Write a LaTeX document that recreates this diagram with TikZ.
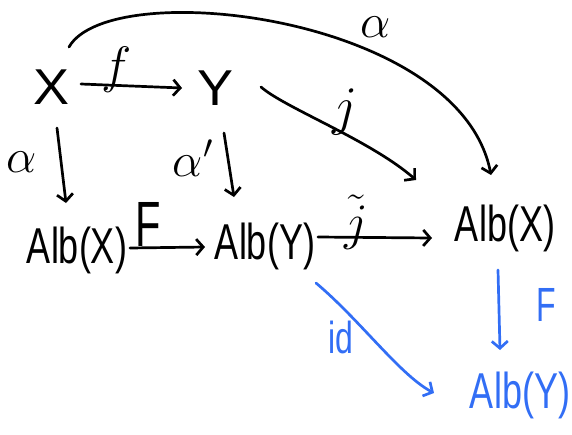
\RequirePackage{fix-cm}
\documentclass[tikz,border=0pt]{standalone}
\usepackage{fontspec}
\setsansfont{Liberation Sans}
\usepackage{graphicx}
\usetikzlibrary{arrows.meta,calc}
\definecolor{hblue}{RGB}{50,110,245}
\newcommand\hwtext[1]{\scalebox{1}[1.4]{\sffamily #1}}
\newcommand\hwbig[1]{\scalebox{1.5}[1.4]{\sffamily #1}}
\newcommand\mlab[2]{\scalebox{#1}{$#2$}}
\begin{document}
\begin{tikzpicture}[x=1pt,y=-1pt, line width=2.7pt, line cap=round, line join=round,
  obj/.style={inner sep=0pt, font=\fontsize{36}{40}\selectfont},
  lab/.style={inner sep=0pt, font=\fontsize{32}{36}\selectfont},
  arr/.style={-{Straight Barb[length=7pt,width=16pt]}}]
\useasboundingbox (0,0) rectangle (572,434);
% objects
\node[obj] (X) at (52,87) {\hwbig{X}};
\node[obj] (Y) at (216,88) {\hwbig{Y}};
\node[obj] (AX1) at (77,250) {\hwtext{Alb(X)}};
\node[obj] (AY1) at (265,246) {\hwtext{Alb(Y)}};
\node[obj] (AX2) at (505,228) {\hwtext{Alb(X)}};
\node[obj, text=hblue] (AYb) at (520,395) {\hwtext{Alb(Y)}};
% connectors
\draw[arr] ($(X.center)+(29,-3)$) -- ($(Y.center)+(-34,0)$);
\draw[arr] ($(X.center)+(5,41)$) -- ($(AX1.center)+(-11,-47)$);
\draw[arr] ($(Y.center)+(8,45)$) -- ($(AY1.center)+(-31,-49)$);
\draw[arr] ($(AX1.center)+(53,-2)$) -- ($(AY1.center)+(-60,1)$);
\draw[arr] ($(AY1.center)+(53,-9)$) -- ($(AX2.center)+(-73,10)$);
\draw[arr] ($(Y.center)+(45,-1)$) .. controls (285,108) and (370,140) .. ($(AX2.center)+(-89,-48)$);
\draw[arr] ($(X.center)+(17,-40)$) .. controls (110,-25) and (460,15) .. ($(AX2.center)+(-14,-53)$);
\draw[arr, hblue] ($(AX2.center)+(-7,42)$) -- ($(AYb.center)+(-20,-45)$);
\draw[arr, hblue] ($(AY1.center)+(51,37)$) .. controls (360,320) and (400,375) .. ($(AYb.center)+(-86,-2)$);
% labels
\node[lab] (lf) at (117,70) {\mlab{1.6}{f}};
\node[lab] (la1) at (22,162) {\mlab{1.5}{\alpha}};
\node[lab] (la2) at (193,158) {\mlab{1.5}{\alpha'}};
\node[lab] (la3) at (376,27) {\mlab{1.5}{\alpha}};
\node[lab] (lj) at (345,112) {\mlab{1.7}{j}};
\node[lab] (lF) at (148,224) {\scalebox{1.3}[2]{\sffamily F}};
\node[lab] (ljt) at (356,222) {\mlab{1.6}{\tilde{j}}};
\node[lab, text=hblue] (lid) at (341,337) {\hwtext{id}};
\node[lab, text=hblue] (lF2) at (546,305) {\scalebox{1}[1.5]{\sffamily F}};
\end{tikzpicture}
\end{document}
